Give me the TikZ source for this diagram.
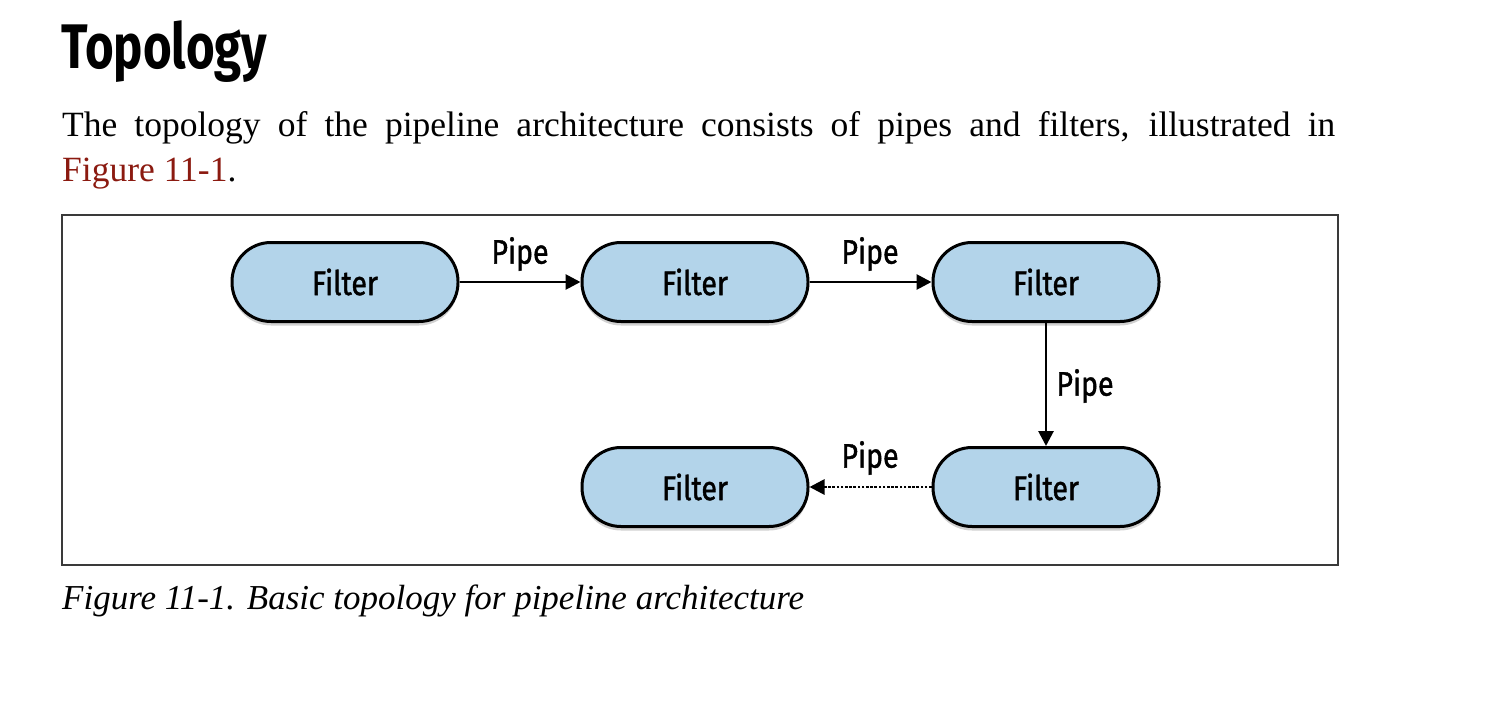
\documentclass[tikz,border=0pt]{standalone}
\usepackage{fontspec}
\setmainfont{Liberation Serif}
\newfontfamily\titlefont[FakeStretch=0.78]{Fira Sans}
\newfontfamily\diafont[FakeStretch=0.84,FakeBold=1.2]{Fira Sans}
\usetikzlibrary{arrows.meta,shadows}
\definecolor{filterfill}{HTML}{B3D4EA}
\definecolor{linkred}{HTML}{8B1A10}
\definecolor{framegray}{HTML}{3A3A3A}
\tikzset{
  filterbox/.style={draw=black, line width=3pt, fill=filterfill, rounded corners=39pt,
    minimum width=226pt, minimum height=79pt, inner sep=0pt,
    font=\diafont\fontsize{34}{38}\selectfont,
    drop shadow={shadow xshift=0pt, shadow yshift=-4pt, opacity=0.18, fill=black}},
  pipearrow/.style={line width=2.8pt, -{Triangle[length=15pt,width=15pt]}},
  pipelabel/.style={font=\diafont\fontsize{34}{38}\selectfont, inner sep=0pt},
}
\begin{document}
\begin{tikzpicture}[x=1pt,y=-1pt]
\useasboundingbox (0,0) rectangle (1492,702);
% title and text
\node[anchor=base west, inner sep=0pt, font=\titlefont\bfseries\fontsize{63}{70}\selectfont] (title) at (61,68) {Topology};
\node[anchor=base west, inner sep=0pt, font=\fontsize{35.5}{40}\selectfont] (line1) at (62,136)
  {\makebox[1273pt][s]{The topology of the pipeline architecture consists of pipes and filters, illustrated in}};
\node[anchor=base west, inner sep=0pt, font=\fontsize{35.5}{40}\selectfont] (line2) at (62,181)
  {\textcolor{linkred}{Figure 11-1}.};
% frame
\draw[framegray, line width=1.2pt] (62,215) rectangle (1338,565);
% nodes
\node[filterbox] (f1) at (345,282) {Filter};
\node[filterbox] (f2) at (695,282) {Filter};
\node[filterbox] (f3) at (1046,282) {Filter};
\node[filterbox] (f4) at (1046,487) {Filter};
\node[filterbox] (f5) at (695,487) {Filter};
% connectors
\draw[pipearrow] (f1.east) -- (f2.west);
\draw[pipearrow] (f2.east) -- (f3.west);
\draw[pipearrow] (f3.south) -- (f4.north);
\draw[pipearrow, dash pattern=on 2.6pt off 1.6pt] (f4.west) -- (f5.east);
% labels
\node[pipelabel] (p1) at (520,254) {Pipe};
\node[pipelabel] (p2) at (870,254) {Pipe};
\node[pipelabel] (p3) at (1085,386) {Pipe};
\node[pipelabel] (p4) at (870,458) {Pipe};
% caption
\node[anchor=base west, inner sep=0pt, font=\itshape\fontsize{35}{40}\selectfont] (cap) at (62,609)
  {Figure 11-1. Basic topology for pipeline architecture};
\end{tikzpicture}
\end{document}
